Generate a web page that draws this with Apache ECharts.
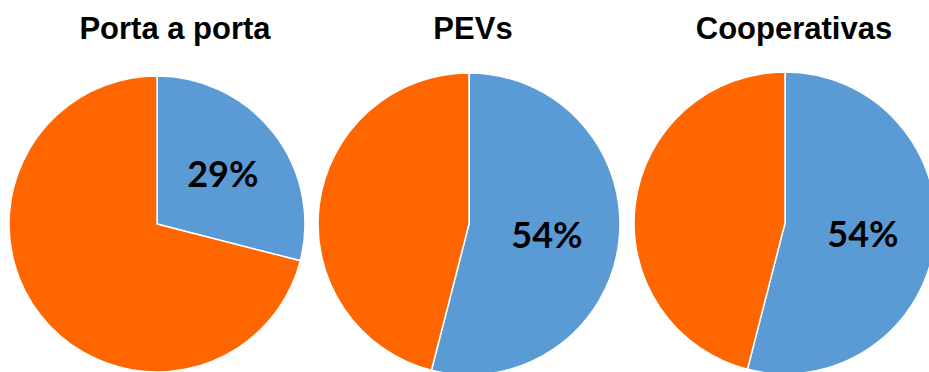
<!DOCTYPE html>
<html>
<head>
<meta charset="utf-8">
<script src="https://cdn.jsdelivr.net/npm/echarts@6/dist/echarts.min.js"></script>
<style>
html, body { margin: 0; padding: 0; background: #fff; }
#chart { width: 929px; height: 372px; }
</style>
</head>
<body>
<div id="chart"></div>
<script>
var chart = echarts.init(document.getElementById('chart'), null, {renderer: 'svg'});

// dados
var titles = ['Porta a porta', 'PEVs', 'Cooperativas'];
var blueValues = [29, 54, 54];
var orangeValues = [71, 46, 46];

var centers = [[157, 224], [469, 224], [785, 223]];
var radii = [148, 151, 151];
var titleX = [170, 468, 789];

var series = [];
var title = [];
for (var i = 0; i < titles.length; i++) {
    title.push({
        text: titles[i],
        left: titleX[i],
        top: 8,
        textAlign: 'center',
        textStyle: {
            fontFamily: 'Liberation Sans',
            fontWeight: 'bold',
            fontSize: 31,
            color: '#000'
        }
    });
    series.push({
        type: 'pie',
        center: centers[i],
        radius: [0, radii[i]],
        startAngle: 90,
        clockwise: true,
        silent: true,
        animation: false,
        itemStyle: {borderColor: '#fff', borderWidth: 1.5},
        label: {
            show: true,
            position: 'inside',
            formatter: '{c}%',
            fontFamily: 'Lato',
            fontWeight: 'bold',
            fontSize: 36,
            color: '#000'
        },
        labelLayout: i === 0 ? {dx: 5, dy: -4} : null,
        data: [
            {value: blueValues[i], name: 'azul', itemStyle: {color: '#5B9BD5'}},
            {value: orangeValues[i], name: 'laranja', itemStyle: {color: '#FF6600'}, label: {show: false}}
        ]
    });
}

chart.setOption({
    animation: false,
    title: title,
    series: series
});
</script>
</body>
</html>
